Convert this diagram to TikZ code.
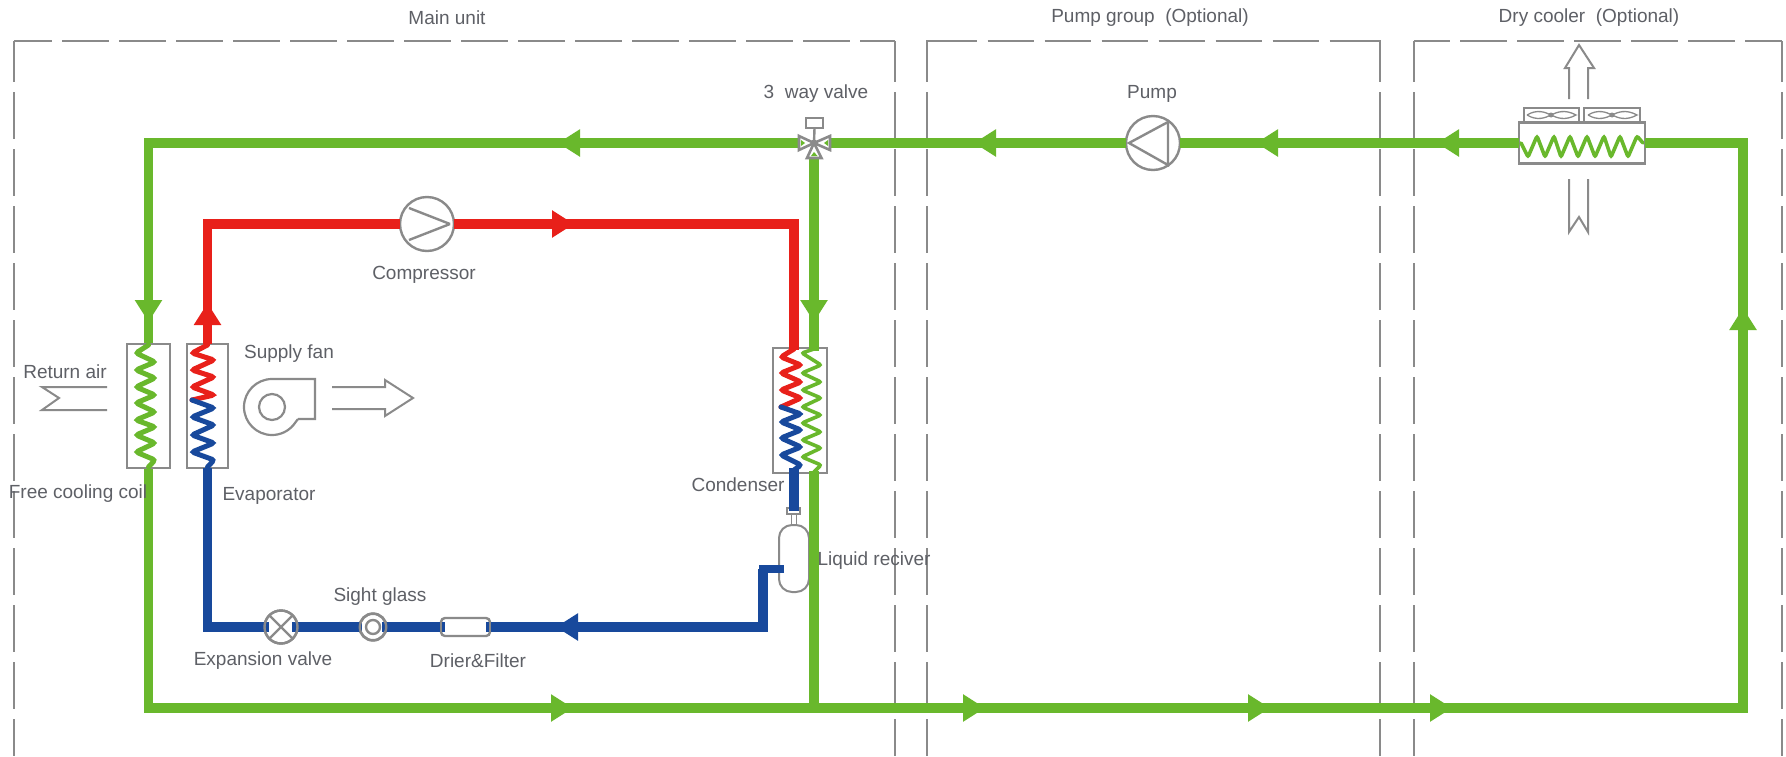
\documentclass[tikz,border=0pt]{standalone}
\usepackage{fontspec}
\setmainfont{Liberation Sans}
\usetikzlibrary{arrows.meta}
\definecolor{pgreen}{HTML}{69B82C}
\definecolor{pred}{HTML}{E8201A}
\definecolor{pblue}{HTML}{18499C}
\definecolor{sym}{HTML}{8A8A8A}
\definecolor{lab}{HTML}{5E6066}
\tikzset{
  lbl/.style={font=\fontsize{19}{22}\selectfont,text=lab,inner sep=0pt},
  zone/.style={draw=sym,line width=1.8pt,dash pattern=on 46.5pt off 10.5pt},
  zoneside/.style={zone,dash phase=6pt},
  greenpipe/.style={draw=pgreen,line width=9.5pt},
  redpipe/.style={draw=pred,line width=9.5pt},
  bluepipe/.style={draw=pblue,line width=9.5pt},
  flow/.style={-{Triangle[length=22pt,width=26pt]}},
  coilline/.style={line width=5pt,rounded corners=2.5pt,line cap=round},
  thincoil/.style={line width=3.6pt,rounded corners=2pt,line cap=round},
  symline/.style={draw=sym,line width=2.4pt},
  airline/.style={draw=sym,line width=2pt,line join=miter},
  coilbox/.style={draw=sym,line width=2.2pt,inner sep=0pt,outer sep=0pt},
  roundsym/.style={circle,draw=sym,line width=2.4pt,fill=white,inner sep=0pt,outer sep=0pt},
}
\begin{document}
\begin{tikzpicture}[x=1pt,y=-1pt]
\useasboundingbox (0,0) rectangle (1786,756);
\fill[white] (0,0) rectangle (1786,756);

% zones
\coordinate (mA) at (14,41); \coordinate (mB) at (895,41);
\coordinate (pA) at (927,41); \coordinate (pB) at (1380,41);
\coordinate (dA) at (1414,41); \coordinate (dB) at (1782,41);
\draw[zone,dash phase=9pt] (mA) -- (mB);
\draw[zone,dash phase=53.5pt] (pA) -- (pB);
\draw[zone,dash phase=11pt] (dA) -- (dB);
\draw[draw=sym,line width=1.8pt] (926,41) -- (931,41) (1375,41) -- (1381,41);
\draw[zoneside] (mA) -- (14,756);
\draw[zoneside] (mB) -- (895,756);
\draw[zoneside] (pA) -- (927,756);
\draw[zoneside] (pB) -- (1380,756);
\draw[zoneside] (dA) -- (1414,756);
\draw[zoneside] (dB) -- (1782,756);

% coil boxes
\node[coilbox,minimum width=43pt,minimum height=124pt] (fcc) at (148.5,406) {};
\node[coilbox,minimum width=41pt,minimum height=124pt] (evap) at (207.5,406) {};
\node[coilbox,minimum width=54pt,minimum height=125pt] (cond) at (800,410.5) {};
\node[coilbox,minimum width=126pt,minimum height=41pt] (dry) at (1582,143) {};

% round symbols
\node[roundsym,minimum size=54pt] (comp) at (427,224) {};
\node[roundsym,minimum size=54pt] (pump) at (1153,143) {};
\node[roundsym,minimum size=33pt] (exp) at (281,627) {};
\node[roundsym,minimum size=27pt] (sight) at (373,627) {};
\node[draw=sym,line width=2.4pt,fill=white,rounded corners=4pt,minimum width=49pt,minimum height=18pt,inner sep=0pt,outer sep=0pt] (drier) at (465.5,627) {};
\node[draw=sym,line width=2pt,fill=white,rounded corners=13pt,minimum width=30pt,minimum height=67pt,inner sep=0pt,outer sep=0pt] (recv) at (794,558.5) {};
\node[draw=sym,line width=2pt,minimum width=13pt,minimum height=6pt,inner sep=0pt,outer sep=0pt] (flange) at (793.5,511) {};
\draw[symline,line width=1.8pt] (791.5,514) -- (791.5,525) (796.5,514) -- (796.5,525);

% named points on the pipes
\coordinate (valve) at (814,143);
\coordinate (gTL) at (148.5,143);
\coordinate (gBL) at (148.5,708);
\coordinate (gBR) at (1743,708);
\coordinate (gTR) at (1743,143);
\coordinate (gBM) at (814,708);
\coordinate (rTL) at (207.5,224);
\coordinate (rTR) at (794,224);
\coordinate (bBL) at (207.5,627);
\coordinate (bK) at (763,627);
\coordinate (bR) at (763,569);
\coordinate (bE) at (784,569);

% green pipes
\draw[greenpipe] (dry.east) -- (gTR) -- (gBR) -- (gBL) -- (gTL) -- (806,143);
\draw[greenpipe] (pump.east) -- (dry.west);
\draw[greenpipe] (pump.west) -- (822,143);
\draw[greenpipe] (814,153) -- (814,351);
\draw[greenpipe] (814,471) -- (gBM);
\fill[white] (fcc.north west) rectangle (fcc.south east);
\node[coilbox,minimum width=43pt,minimum height=124pt] at (148.5,406) {};

% red pipes
\draw[redpipe] (evap.north) -- (rTL) -- (comp.west);
\draw[redpipe] (comp.east) -- (rTR) -- (794,350);

% blue pipes
\draw[bluepipe] (794,468) -- (794,511);
\draw[bluepipe] (763,569) -- (bK) -- (486,627);
\draw[bluepipe,line width=8pt] (bE) -- (758.5,569);
\draw[bluepipe] (445,627) -- (382,627);
\draw[bluepipe] (362,627) -- (292,627);
\draw[bluepipe] (269,627) -- (bBL) -- (evap.south);
\node[circle,draw=sym,line width=2.4pt,fill=white,minimum size=14pt,inner sep=0pt] (sightin) at (373,627) {};
\draw[symline] (sight) circle (13.2);
\draw[symline] (exp) circle (16.5);
\draw[symline] (441,622) -- (441,632) (490,622) -- (490,632);

% flow arrowheads
\draw[greenpipe,flow] (1459,143) -- (1437,143);
\draw[greenpipe,flow] (1278,143) -- (1256,143);
\draw[greenpipe,flow] (996,143) -- (974,143);
\draw[greenpipe,flow] (580,143) -- (558,143);
\draw[greenpipe,flow] (148.5,300) -- (148.5,322);
\draw[greenpipe,flow] (814,300) -- (814,322);
\draw[greenpipe,flow] (1743,330) -- (1743,308);
\draw[greenpipe,flow] (551,708) -- (573,708);
\draw[greenpipe,flow] (963,708) -- (985,708);
\draw[greenpipe,flow] (1248,708) -- (1270,708);
\draw[greenpipe,flow] (1430,708) -- (1452,708);
\draw[redpipe,flow] (207.5,325) -- (207.5,303);
\draw[redpipe,flow] (552,224) -- (574,224);
\draw[bluepipe,flow] (580,627) -- (556,627);

% coils
\draw[pgreen,coilline] (148.5,345) -- (136,353) -- (155,362) -- (136,370) -- (155,378) -- (136,387) -- (155,395) -- (136,403) -- (155,412) -- (136,420) -- (155,427) -- (136,435) -- (155,443) -- (136,452) -- (155,460) -- (148.5,467);
\draw[pred,coilline] (207.5,345) -- (192,353) -- (214,360) -- (192,370) -- (214,377) -- (192,387) -- (214,395) -- (192,400);
\draw[pblue,coilline] (192,400) -- (214,408) -- (192,417) -- (214,425) -- (192,435) -- (214,443) -- (192,452) -- (214,460) -- (207.5,467);
\draw[pred,coilline] (794,349) -- (781,357) -- (801,365) -- (781,373) -- (801,382) -- (781,390) -- (801,398) -- (781,407);
\draw[pblue,coilline] (781,407) -- (801,414) -- (781,422) -- (801,430) -- (781,438) -- (801,447) -- (781,455) -- (801,465) -- (794,470);
\draw[pgreen,thincoil] (814,349) -- (802,353) -- (821,365) -- (802,373) -- (821,382) -- (802,390) -- (821,398) -- (802,407) -- (821,415) -- (802,423) -- (821,432) -- (802,440) -- (821,448) -- (802,457) -- (821,465) -- (814,472);
\draw[pgreen,thincoil] (1521,143) -- (1528,157) -- (1537,136) -- (1545,157) -- (1554,136) -- (1561,157) -- (1570,136) -- (1578,157) -- (1587,136) -- (1595,157) -- (1604,136) -- (1611,157) -- (1620,136) -- (1628,157) -- (1637,136) -- (1643,143);

% compressor and pump inner lines
\draw[symline] (450,224) -- (409,208) (450,224) -- (409,240);
\draw[symline] (1129,143) -- (1168,122) -- (1168,165) -- cycle;

% expansion valve cross
\draw[symline] (269.5,615.5) -- (292.5,638.5) (269.5,638.5) -- (292.5,615.5);

% three way valve
\node[draw=sym,line width=2.2pt,fill=white,minimum width=17pt,minimum height=10pt,inner sep=0pt,outer sep=0pt] (act) at (814.5,123) {};
\draw[symline] (act.south) -- (valve);
\draw[symline,line width=2.6pt,fill=white] (valve) -- (799,136) -- (799,150) -- cycle;
\draw[symline,line width=2.6pt,fill=white] (valve) -- (830,136) -- (830,150) -- cycle;
\draw[symline,line width=2.6pt,fill=white] (valve) -- (807,158) -- (821.5,158) -- cycle;
\fill[pgreen] (801,140) -- (805,143) -- (801,146) -- cycle;
\fill[pgreen] (828,140) -- (824,143) -- (828,146) -- cycle;
\fill[pgreen] (811,156) -- (814,152) -- (817.5,156) -- cycle;
\fill[sym] (valve) circle (3.5);

% dry cooler fans
\node[coilbox,minimum width=55pt,minimum height=14pt] (fanA) at (1551.5,115) {};
\node[coilbox,minimum width=56pt,minimum height=14pt] (fanB) at (1612,115) {};
\draw[sym,line width=1.3pt] (1527,115) .. controls (1537,109) and (1545,112) .. (1551,115) .. controls (1557,112) and (1565,109) .. (1576,115) .. controls (1565,121) and (1557,118) .. (1551,115) .. controls (1545,118) and (1537,121) .. (1527,115);
\draw[sym,line width=1.3pt] (1588,115) .. controls (1598,109) and (1606,112) .. (1612,115) .. controls (1618,112) and (1626,109) .. (1637,115) .. controls (1626,121) and (1618,118) .. (1612,115) .. controls (1606,118) and (1598,121) .. (1588,115);
\fill[sym] (1551,115) circle (2.5) (1612,115) circle (2.5);

% air arrows
\draw[airline] (1569,99) -- (1569,68) -- (1565,68) -- (1579,45) -- (1594,68) -- (1588,68) -- (1588,99);
\draw[airline] (1569,179) -- (1569,232) -- (1579,217) -- (1588,232) -- (1588,179);
\draw[airline] (107,387) -- (42,387) -- (59,398) -- (42,410) -- (107,410);
\draw[airline] (332,387) -- (385,387) -- (385,380) -- (413,398) -- (385,416) -- (385,409) -- (332,409);

% supply fan
\node[circle,draw=sym,line width=2.2pt,inner sep=0pt,minimum size=26pt] (fanhub) at (272,407) {};
\draw[airline,line width=2.2pt] (298,419) -- (315,419) -- (315,379) -- (272,379) arc[start angle=-90,end angle=-320,radius=28] -- (298,419);

% labels
\node[lbl] (t1) at (447,18) {Main unit};
\node[lbl] (t2) at (1150,18) {Pump group\ \ (Optional)};
\node[lbl] (t3) at (1589,18) {Dry cooler\ \ (Optional)};
\node[lbl] (t4) at (816,94) {3\ \ way valve};
\node[lbl] (t5) at (1152,94) {Pump};
\node[lbl] (t6) at (424,275) {Compressor};
\node[lbl] (t7) at (65,372) {Return air};
\node[lbl] (t8) at (289,354) {Supply fan};
\node[lbl] (t9) at (78,494) {Free cooling coil};
\node[lbl] (t10) at (269,496) {Evaporator};
\node[lbl] (t11) at (738,485) {Condenser};
\node[lbl] (t12) at (874,561) {Liquid reciver};
\node[lbl] (t13) at (263,661) {Expansion valve};
\node[lbl] (t14) at (380,597) {Sight glass};
\node[lbl] (t15) at (478,661) {Drier\&Filter};
\end{tikzpicture}
\end{document}
